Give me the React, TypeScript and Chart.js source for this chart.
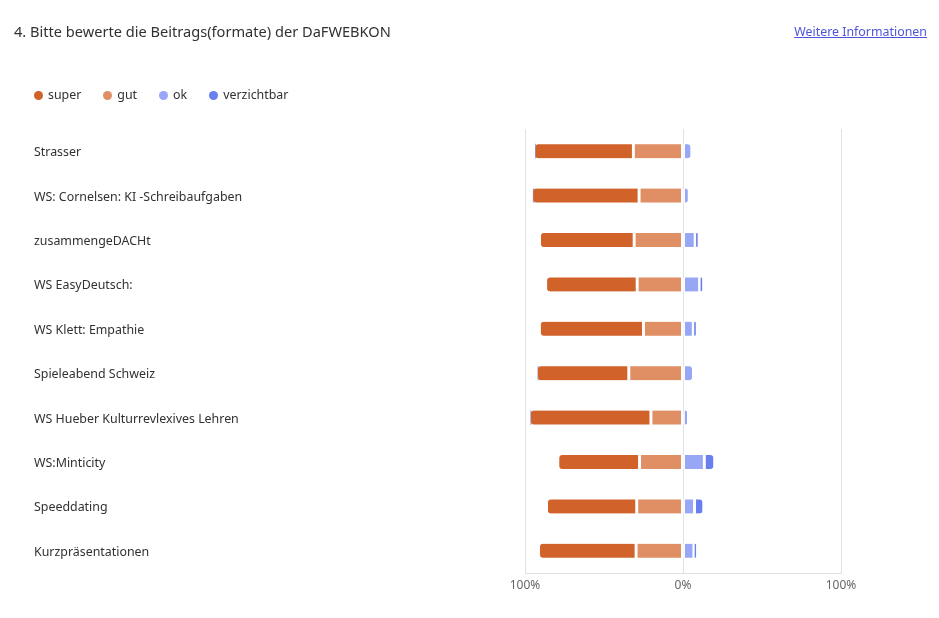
import { useEffect, useRef } from 'react';
import Chart from 'chart.js/auto';

const FONT = '"Noto Sans", "Open Sans", sans-serif';

const categories = [
  'Strasser',
  'WS: Cornelsen: KI -Schreibaufgaben',
  'zusammengeDACHt',
  'WS EasyDeutsch:',
  'WS Klett: Empathie',
  'Spieleabend Schweiz',
  'WS Hueber Kulturrevlexives Lehren',
  'WS:Minticity',
  'Speeddating',
  'Kurzpräsentationen',
];

// percent of answers per rating
const superValues = [62, 67, 59, 57, 65, 57.5, 76, 50.8, 56.2, 60.8];
const gutValues = [31.4, 27.8, 30.9, 29, 25, 34.3, 20.3, 27.5, 29.3, 29.7];
const okValues = [4.7, 3.0, 7.7, 10.5, 6.5, 5.7, 2.4, 13.5, 7.3, 6.9];
const verzichtbarValues = [0, 0, 1.6, 1.7, 1.6, 0, 0, 5.7, 5.0, 1.4];

const seriesNames = ['super', 'gut', 'ok', 'verzichtbar'];
const seriesColors = ['#d0622a', '#e08e64', '#97a7f5', '#6a7fef'];
const xTicks = [-100, 0, 100];

const round = 3;
const gap = 1.8;

export default function App() {
  const canvasRef = useRef<HTMLCanvasElement>(null);

  useEffect(() => {
    const canvas = canvasRef.current;
    if (!canvas) return;
    const context = canvas.getContext('2d');
    if (!context) return;

    const isLast = (datasetIndex: number, i: number) =>
      datasetIndex === 3 || verzichtbarValues[i] === 0;

    const chart = new Chart(context, {
      type: 'bar',
      data: {
        labels: categories,
        datasets: [
          {
            label: seriesNames[1],
            data: gutValues.map((v) => -v),
            backgroundColor: seriesColors[1],
            borderWidth: { left: gap, right: gap, top: 0, bottom: 0 },
            borderRadius: 0,
          },
          {
            label: seriesNames[0],
            data: superValues.map((v) => -v),
            backgroundColor: seriesColors[0],
            borderWidth: { left: 0, right: gap, top: 0, bottom: 0 },
            borderRadius: { topLeft: round, bottomLeft: round, topRight: 0, bottomRight: 0 },
          },
          {
            label: seriesNames[2],
            data: okValues,
            backgroundColor: seriesColors[2],
            borderWidth: (ctx: any) => ({
              left: gap,
              right: isLast(2, ctx.dataIndex) ? 0 : gap,
              top: 0,
              bottom: 0,
            }),
            borderRadius: (ctx: any) => {
              const r = isLast(2, ctx.dataIndex) ? round : 0;
              return { topLeft: 0, bottomLeft: 0, topRight: r, bottomRight: r };
            },
          },
          {
            label: seriesNames[3],
            data: verzichtbarValues,
            backgroundColor: seriesColors[3],
            borderWidth: { left: gap, right: 0, top: 0, bottom: 0 },
            borderRadius: { topLeft: 0, bottomLeft: 0, topRight: round, bottomRight: round },
          },
        ],
      },
      options: {
        animation: false,
        responsive: true,
        maintainAspectRatio: false,
        indexAxis: 'y',
        datasets: {
          bar: {
            barThickness: 14,
            borderColor: '#ffffff',
            borderSkipped: false,
          },
        },
        layout: {
          padding: { top: 129, left: 34, right: 98, bottom: 20.6 },
        },
        plugins: {
          legend: { display: false },
          title: { display: false },
          tooltip: { enabled: false },
        },
        scales: {
          x: {
            stacked: true,
            min: -100,
            max: 100,
            afterBuildTicks: (scale: any) => {
              scale.ticks = xTicks.map((value) => ({ value }));
            },
            ticks: {
              padding: 5,
              color: '#666666',
              font: { family: FONT, size: 12 },
              callback: (value: any) => Math.abs(Number(value)) + '%',
            },
            grid: { color: '#e1e1e1', drawTicks: false },
            border: { display: true, color: '#e1e1e1' },
          },
          y: {
            stacked: true,
            afterFit: (scale: any) => {
              scale.width = 491;
            },
            ticks: {
              crossAlign: 'far',
              autoSkip: false,
              labelOffset: 1.5,
              color: '#323130',
              font: { family: FONT, size: 12.4 },
            },
            grid: { display: false },
            border: { display: false },
          },
        },
      },
    });

    return () => {
      chart.destroy();
    };
  }, []);

  return (
    <div
      style={{
        position: 'absolute',
        left: 0,
        top: 0,
        width: 939,
        height: 618,
        background: '#ffffff',
        fontFamily: FONT,
      }}
    >
      <canvas ref={canvasRef} />
      <div
        style={{
          position: 'absolute',
          left: 14,
          top: 20,
          fontSize: 14.6,
          lineHeight: '22px',
          color: '#323130',
        }}
      >
        4. Bitte bewerte die Beitrags(formate) der DaFWEBKON
      </div>
      <a
        href="#"
        style={{
          position: 'absolute',
          right: 12,
          top: 23,
          fontSize: 12.4,
          lineHeight: '18px',
          color: '#4f55d9',
          textDecoration: 'underline',
        }}
      >
        Weitere Informationen
      </a>
      <div
        style={{
          position: 'absolute',
          left: 34,
          top: 86,
          display: 'flex',
          gap: 22,
          fontSize: 12.4,
          lineHeight: '18px',
          color: '#323130',
        }}
      >
        {seriesNames.map((name, i) => (
          <div key={name} style={{ display: 'flex', alignItems: 'center', gap: 5 }}>
            <span
              style={{
                display: 'inline-block',
                width: 9,
                height: 9,
                borderRadius: '50%',
                background: seriesColors[i],
              }}
            />
            <span>{name}</span>
          </div>
        ))}
      </div>
    </div>
  );
}
